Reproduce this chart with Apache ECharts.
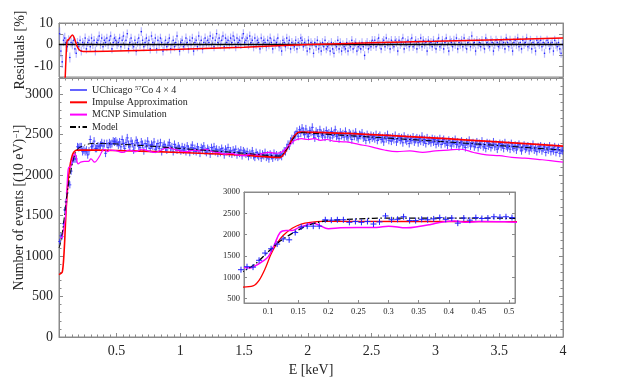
<!DOCTYPE html>
<html>
<head>
<meta charset="utf-8">
<script src="https://cdn.jsdelivr.net/npm/echarts@6/dist/echarts.min.js"></script>
<style>
    html, body {margin: 0; padding: 0; background: #fff;}
    #chart {width: 623px; height: 378px;}
</style>
</head>
<body>
<div id="chart"></div>
<script>
// 10 eV bins, first bin centre
var binStart = 0.055, binWidth = 0.01;

// measured counts per bin (0.055 ... 3.995 keV)
var counts = [
    1180, 1250, 1240, 1400, 1570, 1670, 1780, 1900, 1880, 2050, 2180, 2200, 2200, 2200, 2350,
    2340, 2350, 2350, 2290, 2310, 2290, 2310, 2250, 2300, 2440, 2350, 2360, 2420, 2330, 2330,
    2360, 2350, 2370, 2400, 2360, 2390, 2270, 2390, 2340, 2400, 2380, 2390, 2420, 2410, 2420, 2400,
    2370, 2410, 2350, 2440, 2390, 2330, 2400, 2460, 2380, 2350,
    2420, 2390, 2310, 2370, 2430, 2400, 2360, 2340, 2410, 2380,
    2300, 2390, 2350, 2420, 2370, 2330, 2380, 2360, 2410, 2320,
    2350, 2390, 2330, 2400, 2290, 2360, 2380, 2340, 2310, 2370,
    2400, 2330, 2350, 2290, 2380, 2340, 2310, 2360, 2330, 2300,
    2350, 2310, 2340, 2290, 2360, 2320, 2280, 2340, 2370, 2300,
    2330, 2290, 2350, 2310, 2270, 2340, 2320, 2360, 2300, 2280,
    2330, 2310, 2260, 2340, 2300, 2350, 2290, 2320, 2270, 2310,
    2280, 2330, 2300, 2250, 2320, 2290, 2340, 2270, 2300, 2260,
    2310, 2280, 2320, 2250, 2290, 2270, 2310, 2240, 2300, 2280,
    2260, 2290, 2230, 2270, 2250, 2300, 2240, 2220, 2280, 2250,
    2230, 2270, 2210, 2260, 2240, 2280, 2220, 2250, 2200, 2260,
    2240, 2210, 2270, 2230, 2250, 2220, 2240,
    2250, 2230, 2270, 2300, 2290, 2340, 2380, 2360, 2420, 2450, 2430, 2490, 2500, 2540, 2480, 2560, 2520,
    2580, 2540, 2500, 2570, 2510, 2480, 2550, 2530, 2590, 2500,
    2460, 2540, 2520, 2480, 2560, 2510, 2490, 2530, 2470, 2550,
    2500, 2520, 2460, 2540, 2490, 2510, 2560, 2480, 2500, 2450,
    2530, 2490, 2510, 2470, 2540, 2480, 2460, 2520, 2500, 2440,
    2510, 2480, 2530, 2470, 2450, 2500, 2490, 2520, 2460, 2480,
    2430, 2500, 2470, 2440, 2490, 2460,
    2480, 2450, 2500, 2430, 2470, 2490, 2440, 2460, 2410, 2480,
    2450, 2500, 2430, 2460, 2420, 2470, 2440, 2490, 2410, 2450,
    2470, 2430, 2460, 2400, 2480, 2440, 2420, 2460, 2390, 2450,
    2430, 2470, 2410, 2440, 2460, 2400, 2450, 2420, 2480, 2410,
    2440, 2390, 2460, 2420, 2430, 2400, 2450, 2410, 2440, 2380,
    2430, 2400, 2450, 2380, 2420, 2440, 2390, 2410, 2370, 2430,
    2400, 2360, 2420, 2390, 2440, 2380, 2410, 2350, 2400, 2420,
    2370, 2390, 2340, 2410, 2380, 2430, 2360, 2390, 2400, 2350,
    2380, 2410, 2340, 2390, 2370, 2420, 2350, 2380, 2330, 2400,
    2360, 2390, 2340, 2370, 2410, 2350, 2380, 2320, 2370, 2390,
    2350, 2380, 2330, 2400, 2360, 2340, 2370, 2320, 2390, 2350,
    2330, 2370, 2310, 2360, 2380, 2340, 2300, 2350, 2370, 2320,
    2340, 2360, 2300, 2350, 2330, 2380, 2310, 2340, 2290, 2350,
    2320, 2360, 2300, 2330, 2350, 2280, 2340, 2310, 2360, 2290,
    2330, 2300, 2350, 2280, 2320, 2340, 2270, 2310, 2300
];

// residuals to the model, in %
var residuals = [
    5, -3, -8, 2, 3, 1, -1, 2, -6, 1, 0, 2, -2, -4, 1,
    -1, 2, -3, 1, 0, 3, -2, 1, 2, -1, 3, 0, 2, -3, 1, 2, 4, 0, 3, -1, 2, 1, 3, 0, 2, 4, -2, 1, 3, 2, 0,
    1, 3, -1, 2, 4, 0, 2, 5, -2, 1,
    3, 0, -1, 2, -3, 1, 3, 0, 6, 2,
    -1, 1, 3, 0, 2, -2, 4, 1, 0, 3,
    -2, 2, 0, 3, 1, -3, 0, 2, -1, 1,
    3, -2, 0, 2, -1, 1, 4, 0, -3, 1,
    2, -1, 0, 3, 1, -2, 2, 0, 3, -3,
    1, 2, -1, 4, 0, 2, -2, 1, 3, 0,
    2, 1, 4, 0, 3, -1, 2, 5, 1, 3,
    0, 2, 4, -1, 3, 1, 2, 0, 3, 1,
    4, 2, -1, 3, 1, 2, 0, 3, 5, 1,
    2, 3, 0, 4, 1, 2, -1, 3, 0, 2,
    1, -2, 3, 0, 2, 1, -1, 2, 0, 3,
    1, -2, 2, 0, 1, 3, -1,
    0, -3, 2, 1, -1, 3, 0, 2, -2, 1, 0, -1, 2, -2, 1, 0, 3,
    2, -1, 1, 0, -3, 2, -2, 1, 0, -4,
    1, -1, 2, -2, 0, -3, 1, -1, 2, -2,
    -1, 0, -3, 1, -2, -4, 0, -1, 2, -2,
    1, -3, 0, -1, -2, 1, -3, 0, -1, 2,
    -2, 0, 1, -3, -1, 0, -2, 1, -1, -5,
    0, 1, -2, 0, -1, 2,
    0, 2, -1, 1, 3, 0, -2, 1, 2, -1,
    3, 0, 1, -2, 2, 0, -1, 2, 1, -3,
    2, 0, 1, 3, -2, 1, 0, 2, -1, 1,
    3, -1, 0, 2, -2, 1, 0, 3, -1, 2,
    0, 1, -3, 2, 0, 1, -1, 2, 0, -2,
    1, 3, -1, 0, 2, -2, 1, 3, 0, -3,
    2, 1, -1, 2, 0, 3, -2, 1, 0, 2,
    -1, 3, 0, -2, 1, 2, -1, 4, 0, 1,
    -3, 2, 0, 1, -1, 2, 0, -2, 3, 1,
    0, -1, 2, 1, -3, 0, 2, 1, -1, 0,
    2, 0, 1, -2, 3, 1, -1, 2, 0, -3,
    1, 2, 0, 3, -1, 1, -2, 2, 0, 1,
    3, -1, 0, 2, -2, 1, 0, -3, 2, 1,
    0, 2, -1, 1, -4, 0, 2, 1, -2, 0,
    1, -3, 2, 0, -1, 1, -2, -4, 0
];

// Impulse approximation
var impE = [0.05, 0.075, 0.085, 0.095, 0.105, 0.115, 0.125, 0.14, 0.155, 0.17, 0.19, 0.5, 1.0, 1.5, 1.78, 1.80, 1.84, 1.88, 1.92, 1.94, 4.0];
var impN = [770, 800, 930, 1200, 1550, 1800, 1980, 2150, 2250, 2290, 2310, 2305, 2280, 2245, 2218, 2235, 2330, 2450, 2525, 2531, 2358];

// MCNP simulation
var mcnpE = [0.06, 0.07, 0.08, 0.09, 0.1, 0.11, 0.12, 0.13, 0.14, 0.15, 0.16, 0.175, 0.185, 0.2, 0.22, 0.25, 0.28, 0.3, 0.33, 0.35, 0.37, 0.39, 0.41, 0.43, 0.45,
    0.5, 0.55, 0.6, 0.65, 0.7, 0.75, 0.8, 0.85, 0.9, 0.95, 1.0, 1.05, 1.1, 1.15, 1.2, 1.25, 1.3, 1.35, 1.4, 1.45, 1.5, 1.55, 1.6, 1.65, 1.7, 1.75, 1.8,
    1.85, 1.9, 1.95, 2.0, 2.05, 2.1, 2.15, 2.2, 2.3, 2.4, 2.5, 2.6, 2.7, 2.8, 2.9, 3.0, 3.1, 3.2, 3.3, 3.4, 3.5, 3.6, 3.7, 3.8, 3.9, 4.0];
var mcnpN = [1230, 1220, 1280, 1370, 1480, 1750, 2050, 2100, 2100, 2160, 2210, 2270, 2220, 2140, 2160, 2170, 2170, 2200, 2160, 2190, 2240, 2300, 2320, 2290, 2310,
    2300, 2280, 2310, 2290, 2320, 2300, 2280, 2310, 2340, 2320, 2300, 2290, 2310, 2300, 2320, 2290, 2280, 2260, 2270, 2250, 2240, 2260, 2250, 2270, 2280, 2270, 2290,
    2360, 2430, 2450, 2440, 2450, 2430, 2440, 2420, 2410, 2380, 2350, 2310, 2290, 2300, 2280, 2300, 2310, 2320, 2280, 2250, 2240, 2220, 2210, 2195, 2180, 2160];

// fitted model
var modelE = [0.05, 0.06, 0.08, 0.1, 0.12, 0.14, 0.16, 0.18, 0.2, 0.25, 0.3, 0.4, 0.5, 0.75, 1.0, 1.25, 1.5, 1.78, 1.80, 1.84, 1.88, 1.92, 1.94, 2.0, 2.5, 3.0, 3.5, 4.0];
var modelN = [1100, 1150, 1330, 1600, 1850, 2030, 2180, 2280, 2330, 2370, 2390, 2390, 2385, 2360, 2330, 2300, 2270, 2235, 2250, 2330, 2440, 2515, 2525, 2520, 2470, 2420, 2365, 2309];

// impulse approximation residual, in %
var resImpE = [0.098, 0.105, 0.11, 0.115, 0.125, 0.14, 0.155, 0.17, 0.19, 0.21, 0.24, 0.5, 1.0, 1.5, 2.0, 2.5, 3.0, 3.5, 4.0];
var resImpN = [-16, -6, 0, 2, 2.3, 3.5, 4.5, 3, -0.5, -2.5, -3.2, -3.0, -2.2, -1.2, 0, 0.8, 1.5, 2.3, 3.0];

// tick labels
var xMajor = [0.5, 1, 1.5, 2, 2.5, 3, 3.5, 4];
var insetXTicks = [0.1, 0.15, 0.2, 0.25, 0.3, 0.35, 0.4, 0.45, 0.5];
var insetYTicks = [500, 1000, 1500, 2000, 2500, 3000];

var font = 'Liberation Serif, DejaVu Serif, serif';
var frameColor = '#8a8a8a', labelColor = '#262626';

function zip(xs, ys) {
    var out = [];
    for (var i = 0; i < xs.length; i++) out.push([xs[i], ys[i]]);
    return out;
}

function plain(v) { return String(v); }

var xMinor = [];
for (var k = 1; k <= 80; k++) {
    var v = Math.round(k * 5) / 100;
    if (Math.abs(v * 2 - Math.round(v * 2)) > 1e-6) xMinor.push(v);
}

var dataPts = [], residPts = [], insetPts = [];
for (var i = 0; i < counts.length; i++) {
    var e = Math.round((binStart + i * binWidth) * 1000) / 1000;
    dataPts.push([e, counts[i], Math.sqrt(counts[i])]);
    residPts.push([e, residuals[i], 100 / Math.sqrt(counts[i])]);
    if (e <= 0.51) insetPts.push([e, counts[i], Math.sqrt(counts[i])]);
}

function xPair(grid, position, labels, z) {
    var major = {
        type: 'value', gridIndex: grid, position: position, min: 0.05, max: 4, z: z,
        axisLine: {show: true, lineStyle: {color: frameColor}},
        axisTick: {show: true, inside: true, length: 4, customValues: xMajor, lineStyle: {color: frameColor}},
        axisLabel: {show: labels, customValues: xMajor, formatter: plain, color: labelColor, fontFamily: font, fontSize: 14, margin: 7},
        splitLine: {show: false}
    };
    var minor = {
        type: 'value', gridIndex: grid, position: position, min: 0.05, max: 4, z: z,
        axisLine: {show: false},
        axisTick: {show: true, inside: true, length: 2.5, customValues: xMinor, lineStyle: {color: frameColor}},
        axisLabel: {show: false},
        splitLine: {show: false}
    };
    return [major, minor];
}

var xAxes = [].concat(
    xPair(0, 'bottom', false),      // 0,1
    xPair(0, 'top', false),         // 2,3
    xPair(1, 'bottom', true),       // 4,5
    xPair(1, 'top', false)          // 6,7
);
xAxes[4].name = 'E [keV]';
xAxes[4].nameLocation = 'middle';
xAxes[4].nameGap = 22;
xAxes[4].nameTextStyle = {color: labelColor, fontFamily: font, fontSize: 14};

// inset axes 8, 9
[['bottom', true], ['top', false]].forEach(function (p) {
    xAxes.push({
        type: 'value', gridIndex: 2, position: p[0], min: 0.06, max: 0.51, z: 11,
        axisLine: {show: true, lineStyle: {color: frameColor}},
        axisTick: {show: true, inside: true, length: 3, customValues: insetXTicks, lineStyle: {color: frameColor}},
        axisLabel: {show: p[1], customValues: insetXTicks, formatter: plain, color: labelColor, fontFamily: font, fontSize: 8.5, margin: 4},
        splitLine: {show: false}
    });
});

function yResid(position, labels) {
    return {
        type: 'value', gridIndex: 0, position: position, min: -15, max: 10, interval: 5,
        axisLine: {show: true, lineStyle: {color: frameColor}},
        axisTick: {show: true, inside: true, length: 4, lineStyle: {color: frameColor}},
        axisLabel: {
            show: labels, color: labelColor, fontFamily: font, fontSize: 14, margin: 6,
            formatter: function (v) { return v % 10 === 0 ? String(v) : ''; }
        },
        splitLine: {show: false}
    };
}

function yMain(position, labels) {
    return {
        type: 'value', gridIndex: 1, position: position, min: 0, max: 3200, interval: 500,
        axisLine: {show: true, lineStyle: {color: frameColor}},
        axisTick: {show: true, inside: true, length: 4, lineStyle: {color: frameColor}},
        minorTick: {show: true, splitNumber: 5, length: 2.5, lineStyle: {color: frameColor}},
        axisLabel: {show: labels, showMaxLabel: false, formatter: plain, color: labelColor, fontFamily: font, fontSize: 14, margin: 6},
        splitLine: {show: false}
    };
}

function yInset(position, labels) {
    return {
        type: 'value', gridIndex: 2, position: position, min: 400, max: 3000, z: 11,
        axisLine: {show: true, lineStyle: {color: frameColor}},
        axisTick: {show: true, inside: true, length: 3, customValues: insetYTicks, lineStyle: {color: frameColor}},
        axisLabel: {show: labels, customValues: insetYTicks, formatter: plain, color: labelColor, fontFamily: font, fontSize: 8.5, margin: 4},
        splitLine: {show: false}
    };
}

var yAxes = [yResid('left', true), yResid('right', false), yMain('left', true), yMain('right', false), yInset('left', true), yInset('right', false)];
yAxes[0].name = 'Residuals [%]';
yAxes[0].nameLocation = 'middle';
yAxes[0].nameGap = 32;
yAxes[0].nameMoveOverlap = false;
yAxes[0].nameTextStyle = {color: labelColor, fontFamily: font, fontSize: 14};
yAxes[2].name = '{a|Number of events [(10 eV)}{s|−1}{a|]}';
yAxes[2].nameLocation = 'middle';
yAxes[2].nameGap = 32;
yAxes[2].nameMoveOverlap = false;
yAxes[2].nameTextStyle = {
    color: labelColor, fontFamily: font, fontSize: 14,
    rich: {
        a: {color: labelColor, fontFamily: font, fontSize: 14},
        s: {color: labelColor, fontFamily: font, fontSize: 9, verticalAlign: 'top', padding: [0, 0, 6, 0]}
    }
};

function errorBars(color, width, halfW, dot) {
    return function (params, api) {
        var x = api.value(0), y = api.value(1), err = api.value(2);
        var top = api.coord([x, y + err]), bot = api.coord([x, y - err]), c = api.coord([x, y]);
        var kids = [
            {type: 'line', shape: {x1: c[0], y1: top[1], x2: c[0], y2: bot[1]}, style: {stroke: color, lineWidth: width}}
        ];
        if (dot) {
            kids.push({type: 'circle', shape: {cx: c[0], cy: c[1], r: 0.8}, style: {fill: dot}});
        } else {
            kids.push({type: 'line', shape: {x1: c[0] - halfW, y1: c[1], x2: c[0] + halfW, y2: c[1]}, style: {stroke: color, lineWidth: width}});
        }
        return {type: 'group', children: kids};
    };
}

function plusMarks(params, api) {
    var x = api.value(0), y = api.value(1), err = api.value(2);
    var c = api.coord([x, y]), top = api.coord([x, y + err]), bot = api.coord([x, y - err]);
    var h = Math.max(3, c[1] - top[1]);
    return {
        type: 'group', children: [
            {type: 'line', shape: {x1: c[0] - 3, y1: c[1], x2: c[0] + 3, y2: c[1]}, style: {stroke: '#2020ff', lineWidth: 1}},
            {type: 'line', shape: {x1: c[0], y1: c[1] - h, x2: c[0], y2: c[1] + Math.max(3, bot[1] - c[1])}, style: {stroke: '#2020ff', lineWidth: 1}}
        ]
    };
}

var chart = echarts.init(document.getElementById('chart'), null, {renderer: 'canvas'});

var option = {
    animation: false,
    backgroundColor: '#fff',
    grid: [
        {left: 59, right: 60, top: 23, height: 54, show: true, borderColor: frameColor, borderWidth: 1, outerBoundsMode: 'none'},
        {left: 59, right: 60, top: 78, height: 259, show: true, borderColor: frameColor, borderWidth: 1, outerBoundsMode: 'none'},
        {left: 244, top: 192, width: 271, height: 111, show: true, backgroundColor: '#fff', borderColor: frameColor, borderWidth: 1, z: 10, outerBoundsMode: 'none'}
    ],
    xAxis: xAxes,
    yAxis: yAxes,
    legend: {
        left: 69, top: 85, orient: 'vertical', padding: 0,
        itemWidth: 17, itemHeight: 10, itemGap: 2.3,
        itemStyle: {opacity: 0, borderWidth: 0},
        textStyle: {
            color: labelColor, fontFamily: font, fontSize: 10,
            rich: {
                t: {color: labelColor, fontFamily: font, fontSize: 10},
                s: {color: labelColor, fontFamily: font, fontSize: 6.5, verticalAlign: 'top'}
            }
        },
        formatter: function (name) {
            if (name.indexOf('UChicago') === 0) return '{t|UChicago }{s|57}{t|Co 4 × 4}';
            return name;
        },
        data: ['UChicago 57Co 4 × 4', 'Impulse Approximation', 'MCNP Simulation', 'Model']
    },
    series: [
        // residual panel
        {
            name: 'residuals', type: 'custom', xAxisIndex: 0, yAxisIndex: 0,
            renderItem: errorBars('rgba(110,110,255,0.5)', 1.2, 0, '#1a1aff'),
            data: residPts, z: 2
        },
        {
            name: 'zero', type: 'line', xAxisIndex: 0, yAxisIndex: 0, symbol: 'none',
            lineStyle: {color: '#000', width: 1.5}, data: [[0.05, 0], [4, 0]], z: 3
        },
        {
            name: 'impulse residual', type: 'line', xAxisIndex: 0, yAxisIndex: 0, symbol: 'none', smooth: 0.3,
            lineStyle: {color: '#ff0000', width: 1.5}, data: zip(resImpE, resImpN), z: 4
        },
        // main panel
        {
            name: 'UChicago data', type: 'custom', xAxisIndex: 4, yAxisIndex: 2,
            renderItem: errorBars('rgba(40,40,255,0.8)', 1, 1.5),
            data: dataPts, z: 2
        },
        {
            name: 'UChicago 57Co 4 × 4', type: 'line', xAxisIndex: 4, yAxisIndex: 2, symbol: 'none',
            color: '#6464ff', lineStyle: {color: '#6464ff', width: 2.5}, data: []
        },
        {
            name: 'Impulse Approximation', type: 'line', xAxisIndex: 4, yAxisIndex: 2, symbol: 'none', smooth: 0.2,
            color: '#ff0000', lineStyle: {color: '#ff0000', width: 1.6}, data: zip(impE, impN), z: 3
        },
        {
            name: 'MCNP Simulation', type: 'line', xAxisIndex: 4, yAxisIndex: 2, symbol: 'none', smooth: 0.4,
            color: '#ff00ff', lineStyle: {color: '#ff00ff', width: 1.2}, data: zip(mcnpE, mcnpN), z: 3
        },
        {
            name: 'Model', type: 'line', xAxisIndex: 4, yAxisIndex: 2, symbol: 'none', smooth: 0.2,
            color: '#000', lineStyle: {color: '#000', width: 1, type: [6, 2.5, 1.5, 2.5]}, data: zip(modelE, modelN), z: 4
        },
        // inset
        {
            name: 'inset data', type: 'custom', xAxisIndex: 8, yAxisIndex: 4,
            renderItem: plusMarks, data: insetPts, z: 14
        },
        {
            name: 'inset impulse', type: 'line', xAxisIndex: 8, yAxisIndex: 4, symbol: 'none', smooth: 0.3,
            lineStyle: {color: '#ff0000', width: 1.3}, data: zip(impE, impN), z: 12
        },
        {
            name: 'inset mcnp', type: 'line', xAxisIndex: 8, yAxisIndex: 4, symbol: 'none', smooth: 0.4,
            lineStyle: {color: '#ff00ff', width: 1.5}, data: zip(mcnpE, mcnpN), z: 12
        },
        {
            name: 'inset model', type: 'line', xAxisIndex: 8, yAxisIndex: 4, symbol: 'none', smooth: 0.3,
            lineStyle: {color: '#000', width: 1.3, type: [6, 2.5, 1.5, 2.5]}, data: zip(modelE, modelN), z: 13
        }
    ]
};

chart.setOption(option);
</script>
</body>
</html>
